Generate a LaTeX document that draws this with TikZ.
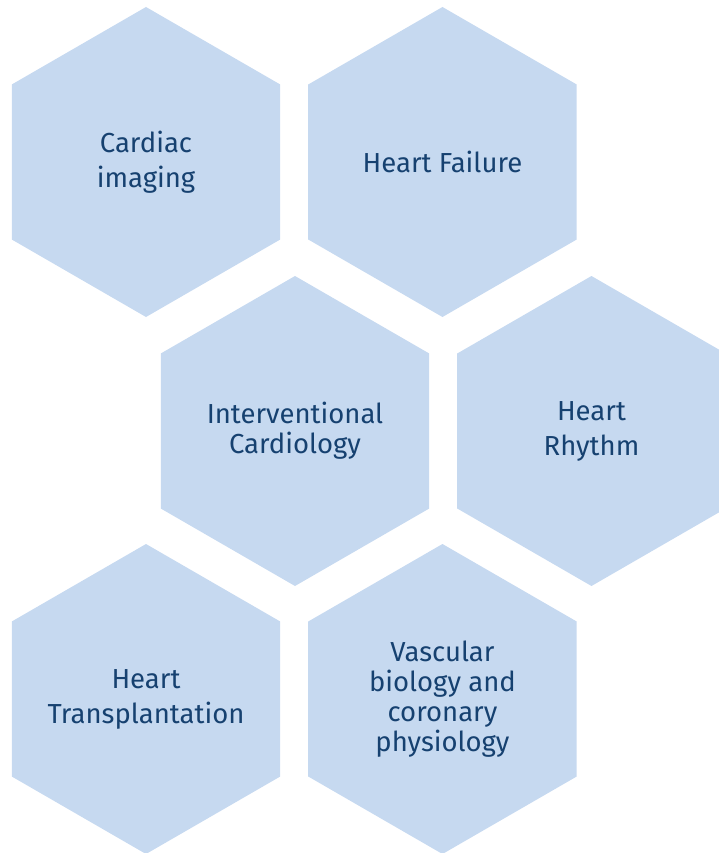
\documentclass[tikz,border=0pt]{standalone}
\usepackage{fontspec}
\setmainfont{Fira Sans}
\usepackage{tikz}
\usetikzlibrary{shapes.geometric, positioning}

\definecolor{hexfill}{RGB}{198,217,240}
\definecolor{hextext}{RGB}{22,65,112}

\begin{document}
\begin{tikzpicture}[x=1pt, y=-1pt,
    hexcell/.style={regular polygon, regular polygon sides=6, shape border rotate=30,
      minimum size=310pt, inner sep=-40pt, outer sep=0pt, fill=hexfill,
      text=hextext, align=center, font=\fontsize{27.5}{35}\selectfont}]
    \useasboundingbox (0,0) rectangle (718,853);

    \node(cardiac)[hexcell] at (146,162){Cardiac\\imaging};
    \node(failure)[hexcell,right=28pt of cardiac]{Heart Failure};

    \node(interv)[hexcell,font=\fontsize{27.5}{30}\selectfont] at (295,431){Interventional\\Cardiology};
    \node(rhythm)[hexcell,right=28pt of interv]{Heart\\Rhythm};

    \node(transpl)[hexcell] at (146,699){Heart\\Transplantation};
    \node(vascular)[hexcell,right=28pt of transpl,
      font=\fontsize{27.5}{30}\selectfont]{Vascular\\biology and\\coronary\\physiology};
  \end{tikzpicture}
\end{document}
